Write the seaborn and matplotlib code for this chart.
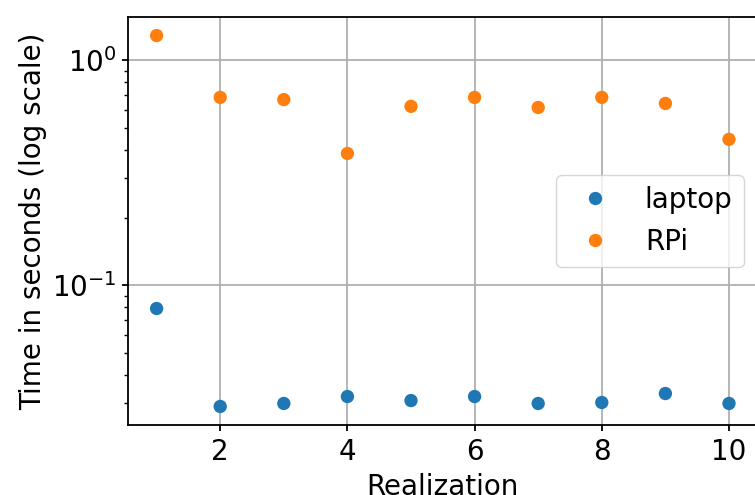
import matplotlib
matplotlib.use("Agg")
import matplotlib.pyplot as plt
import seaborn as sns
import pandas as pd

realization = list(range(1, 11))
laptop = [0.079, 0.0290, 0.0299, 0.0321, 0.0308, 0.0321, 0.0299, 0.0302, 0.0331, 0.0299]
rpi = [1.29, 0.685, 0.670, 0.386, 0.625, 0.685, 0.618, 0.685, 0.644, 0.446]
series_names = ["laptop", "RPi"]

df = pd.DataFrame({
    "Realization": realization * 2,
    "Time": laptop + rpi,
    "device": [series_names[0]] * len(laptop) + [series_names[1]] * len(rpi),
})

fig = plt.figure(figsize=(7.55, 4.95), dpi=100)
ax = fig.add_axes([128 / 755, 1 - 425 / 495, (757.6 - 128) / 755, (425 - 17) / 495])

sns.scatterplot(data=df, x="Realization", y="Time", hue="device",
                palette=["#1f77b4", "#ff7f0e"], s=92, linewidth=0, ax=ax)
ax.set_yscale("log")
ax.grid(True, which="major", color="#b0b0b0", linewidth=1.3)
ax.set_axisbelow(True)
for sp in ax.spines.values():
    sp.set_linewidth(1.3)
ax.tick_params(axis="both", which="major", labelsize=20, length=4.5, width=1.3)
ax.tick_params(axis="x", which="major", pad=5)
ax.tick_params(axis="both", which="minor", length=3.0, width=1.0)
ax.set_xlabel("Realization", fontsize=20, labelpad=5)
ax.set_ylabel("Time in seconds (log scale)", fontsize=20)

handles, labels = ax.get_legend_handles_labels()
leg = ax.legend(handles, labels, loc="center right", fontsize=20)

fig.savefig("out.png", dpi=100)
